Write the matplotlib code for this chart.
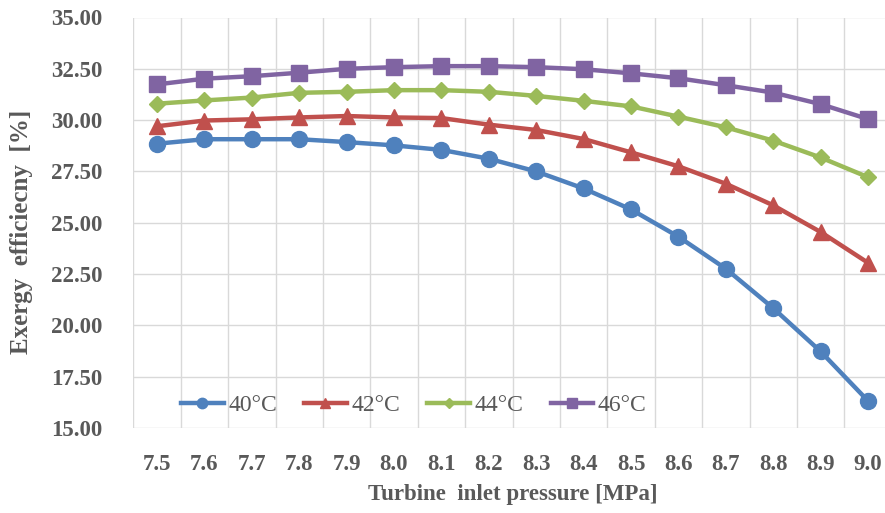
import numpy as np
import matplotlib
matplotlib.use('Agg')
import matplotlib.pyplot as plt

pressure = ['7.5', '7.6', '7.7', '7.8', '7.9', '8.0', '8.1', '8.2',
            '8.3', '8.4', '8.5', '8.6', '8.7', '8.8', '8.9', '9.0']

eff_40 = [28.85, 29.07, 29.07, 29.07, 28.93, 28.77, 28.55, 28.12,
          27.50, 26.67, 25.65, 24.32, 22.76, 20.84, 18.73, 16.32]
eff_42 = [29.70, 29.98, 30.04, 30.13, 30.20, 30.13, 30.10, 29.78,
          29.52, 29.08, 28.43, 27.75, 26.90, 25.85, 24.55, 23.05]
eff_44 = [30.80, 30.96, 31.10, 31.33, 31.38, 31.46, 31.46, 31.38,
          31.18, 30.94, 30.67, 30.17, 29.65, 29.00, 28.18, 27.22]
eff_46 = [31.74, 32.02, 32.14, 32.31, 32.50, 32.58, 32.63, 32.63,
          32.58, 32.48, 32.28, 32.04, 31.70, 31.34, 30.78, 30.05]

series = [
    ('40°C', eff_40, '#4F81BD', 'o', 11.5),
    ('42°C', eff_42, '#C0504D', '^', 11.5),
    ('44°C', eff_44, '#9BBB59', 'D', 8.5),
    ('46°C', eff_46, '#8064A2', 's', 11.5),
]

plt.rcParams['font.family'] = ['Liberation Serif', 'DejaVu Serif']
txt = '#595959'

fig = plt.figure(figsize=(8.85, 5.13), dpi=100)
# plot area runs slightly past the right edge, as in the cropped original
ax = fig.add_axes([133.3 / 885, 1 - 428 / 513, (891.7 - 133.3) / 885, (428 - 17.5) / 513])

x = np.arange(len(pressure))
for name, vals, col, mk, ms in series:
    ax.plot(x, vals, color=col, lw=3.2, marker=mk, markersize=ms,
            markeredgecolor=col, label=name, zorder=3)

ax.set_xlim(-0.5, len(pressure) - 0.5)
ax.set_ylim(15, 35)
ax.set_yticks(np.arange(15, 35.01, 2.5))
ax.set_yticklabels(['%.2f' % v for v in np.arange(15, 35.01, 2.5)])
ax.set_xticks(x)
ax.set_xticklabels(pressure)
ax.set_xticks(np.arange(-0.5, len(pressure), 1), minor=True)

ax.grid(axis='y', which='major', color='#D9D9D9', lw=1.0, zorder=0)
ax.grid(axis='x', which='minor', color='#D9D9D9', lw=1.0, zorder=0)
ax.grid(axis='x', which='major', visible=False)
for s in ax.spines.values():
    s.set_visible(False)

ax.tick_params(axis='both', which='both', length=0)
ax.tick_params(axis='y', pad=22, labelsize=16.5, labelcolor=txt)
ax.tick_params(axis='x', pad=19, labelsize=16.5, labelcolor=txt)
for lab in ax.get_xticklabels() + ax.get_yticklabels():
    lab.set_fontweight('bold')

ax.set_xlabel('Turbine  inlet pressure [MPa]', fontsize=16.5, fontweight='bold',
              color=txt, labelpad=6)
fig.text(22 / 885, 1 - 232 / 513, 'Exergy  efficiecny  [%]', rotation=90,
         fontsize=18, fontweight='bold', color=txt, ha='center', va='center')

ax.legend(loc='center left', bbox_to_anchor=(0.035, 0.056), ncol=4, frameon=False,
          fontsize=17, labelcolor=txt, handlelength=1.8, handletextpad=0.2,
          columnspacing=1.15, markerscale=0.65)

fig.savefig('out.png', dpi=100)
